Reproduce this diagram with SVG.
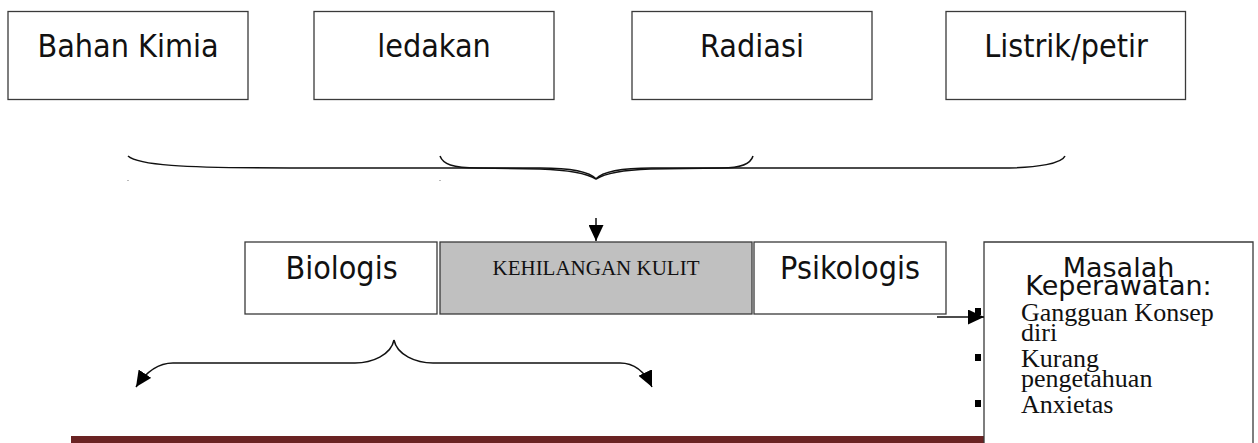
<svg xmlns="http://www.w3.org/2000/svg" width="1258" height="443" viewBox="0 0 1258 443">
<style>
.box{fill:#fff;stroke:#3a3a3a;stroke-width:1.3}
.grey{fill:#c0c0c0;stroke:#3a3a3a;stroke-width:1.3}
.tc{font-family:"DejaVu Sans Condensed","DejaVu Sans",sans-serif;font-size:32px;fill:#111;text-anchor:middle}
.tm{font-family:"DejaVu Sans",sans-serif;font-size:27px;fill:#111;text-anchor:middle}
.ts{font-family:"Liberation Serif","Times New Roman",serif;fill:#111}
.ln{fill:none;stroke:#111;stroke-width:1.5}
</style>
<defs>
<marker id="ah" viewBox="0 0 16 15" refX="16" refY="7.5" markerWidth="16" markerHeight="15" markerUnits="userSpaceOnUse" orient="auto">
<path d="M0,0 L16,7.5 L0,15 Z" fill="#000"/>
</marker>
</defs>
<rect x="71" y="436" width="913" height="7" fill="#6a2323"/>
<g id="n-bahan"><rect class="box" x="8" y="11.5" width="240" height="88"/><text class="tc" x="128" y="57">Bahan Kimia</text></g>
<g id="n-ledakan"><rect class="box" x="314" y="11.5" width="240" height="88"/><text class="tc" x="434" y="57">ledakan</text></g>
<g id="n-radiasi"><rect class="box" x="632" y="11.5" width="240" height="88"/><text class="tc" x="752" y="57">Radiasi</text></g>
<g id="n-listrik"><rect class="box" x="946" y="11.5" width="239.5" height="88"/><text class="tc" x="1066" y="57">Listrik/petir</text></g>
<g id="n-biologis"><rect class="box" x="245" y="242" width="192" height="72"/><text class="tc" x="341.5" y="279">Biologis</text></g>
<g id="n-kehilangan"><rect class="grey" x="440" y="242" width="312" height="72"/><text class="ts" x="596" y="275" font-size="21" text-anchor="middle">KEHILANGAN KULIT</text></g>
<g id="n-psikologis"><rect class="box" x="754" y="242" width="192" height="72"/><text class="tc" x="850" y="279">Psikologis</text></g>
<g id="n-masalah">
<path class="box" d="M984,445 L984,242 L1253,242 L1253,445"/>
<text class="tm" x="1118.5" y="277">Masalah</text>
<text class="tm" x="1118.5" y="295">Keperawatan:</text>
<g fill="#000"><rect x="975" y="308" width="6" height="7"/><rect x="975" y="354" width="6" height="7"/><rect x="975" y="400" width="6" height="7"/></g>
<text class="ts" font-size="26" x="1021" y="321">Gangguan Konsep</text>
<text class="ts" font-size="26" x="1021" y="341">diri</text>
<text class="ts" font-size="26" x="1021" y="367">Kurang</text>
<text class="ts" font-size="26" x="1021" y="387">pengetahuan</text>
<text class="ts" font-size="26" x="1021" y="413">Anxietas</text>
</g>
<g id="connectors">
<path class="ln" stroke-width="1.3" d="M128,156 C138,165 180,168 290,168 L540,168 C570,168 590,172 596,179"/>
<path class="ln" stroke-width="1.3" d="M596,179 C602,172 622,168 652,168 L1000,168 C1040,168 1062,163 1065,156"/>
<path class="ln" stroke-width="1.3" d="M440,156 C443,164 452,168 478,168 L540,169 C568,170 588,174 596,179"/>
<path class="ln" stroke-width="1.3" d="M596,179 C604,174 622,170 650,169 L722,168 C742,168 751,163 753,156"/>
<rect x="127.5" y="180" width="1" height="1" fill="#777"/>
<rect x="439.5" y="180" width="1" height="1" fill="#777"/>
<path class="ln" d="M596,218 L596,241" marker-end="url(#ah)"/>
<path class="ln" d="M394,340 C391,355 372,363 355,363 L173,363 C158,363 146,372 136,387" marker-end="url(#ah)"/>
<path class="ln" d="M394,340 C397,355 416,363 433,363 L620,363 C634,363 645,372 652,387" marker-end="url(#ah)"/>
<path class="ln" d="M937,317 L984,317" marker-end="url(#ah)"/>
</g>
</svg>
